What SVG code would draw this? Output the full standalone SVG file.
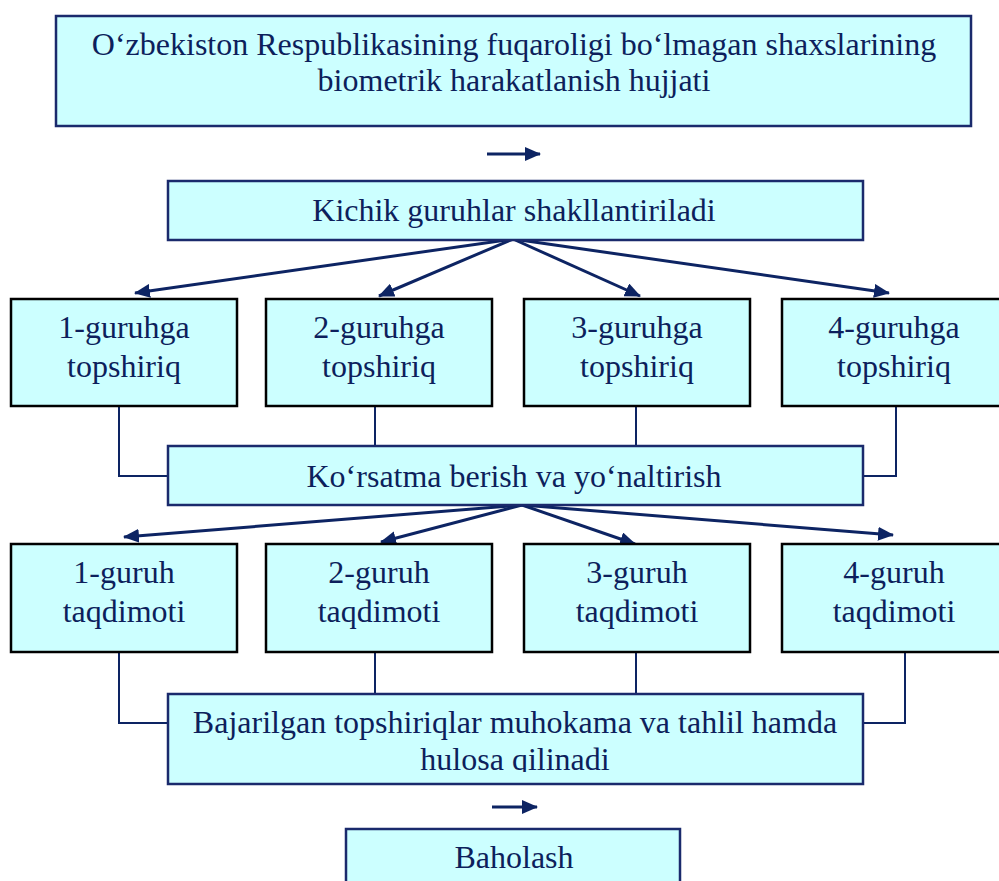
<svg xmlns="http://www.w3.org/2000/svg" width="999" height="881" viewBox="0 0 999 881">
<style>
  .bx{fill:#ccffff;stroke:#1a2a6c;stroke-width:2.5}
  .gb{fill:#ccffff;stroke:#000;stroke-width:2.5}
  .t{font-family:"Liberation Serif","Times New Roman",serif;font-size:32px;fill:#0d1f5c;text-anchor:middle}
  .ar{stroke:#0d2463;stroke-width:3;fill:none;marker-end:url(#ah)}
  .ln{stroke:#0d2463;stroke-width:2;fill:none}
</style>
<defs>
  <marker id="ah" viewBox="0 0 16 14" refX="15" refY="7" markerWidth="16" markerHeight="14" markerUnits="userSpaceOnUse" orient="auto">
    <path d="M0,0 L16,7 L0,14 z" fill="#0d2463"/>
  </marker>
  <clipPath id="cl"><rect x="167" y="694" width="697" height="78"/></clipPath>
</defs>

<g id="connectors">
  <path class="ar" d="M487,154 H540"/>
  <path class="ar" d="M513,239 L135,293"/>
  <path class="ar" d="M513,239 L379,296"/>
  <path class="ar" d="M513,239 L640,296"/>
  <path class="ar" d="M513,239 L889,293"/>
  <path class="ln" d="M119,406 V476 H168"/>
  <path class="ln" d="M375,406 V446"/>
  <path class="ln" d="M636,406 V446"/>
  <path class="ln" d="M896,406 V476 H863"/>
  <path class="ar" d="M522,505 L124,537"/>
  <path class="ar" d="M522,505 L381,542"/>
  <path class="ar" d="M522,505 L635,544"/>
  <path class="ar" d="M522,505 L893,535"/>
  <path class="ln" d="M119,652 V723 H168"/>
  <path class="ln" d="M375,652 V694"/>
  <path class="ln" d="M636,652 V694"/>
  <path class="ln" d="M905,652 V723 H863"/>
  <path class="ar" d="M492,807 H537"/>
</g>

<g id="n-top">
  <rect class="bx" x="56" y="16" width="915" height="110"/>
  <text class="t" x="514" y="55">O‘zbekiston Respublikasining fuqaroligi bo‘lmagan shaxslarining</text>
  <text class="t" x="514" y="91">biometrik harakatlanish hujjati</text>
</g>

<g id="n-kichik">
  <rect class="bx" x="168" y="181" width="695" height="59"/>
  <text class="t" x="514" y="221">Kichik guruhlar shakllantiriladi</text>
</g>

<g id="n-g1">
  <rect class="gb" x="11" y="299" width="226" height="107"/>
  <text class="t" x="124" y="338">1-guruhga</text>
  <text class="t" x="124" y="377">topshiriq</text>
</g>
<g id="n-g2">
  <rect class="gb" x="266" y="299" width="226" height="107"/>
  <text class="t" x="379" y="338">2-guruhga</text>
  <text class="t" x="379" y="377">topshiriq</text>
</g>
<g id="n-g3">
  <rect class="gb" x="524" y="299" width="226" height="107"/>
  <text class="t" x="637" y="338">3-guruhga</text>
  <text class="t" x="637" y="377">topshiriq</text>
</g>
<g id="n-g4">
  <rect class="gb" x="782" y="299" width="226" height="107"/>
  <text class="t" x="894" y="338">4-guruhga</text>
  <text class="t" x="894" y="377">topshiriq</text>
</g>

<g id="n-korsatma">
  <rect class="bx" x="168" y="446" width="695" height="59"/>
  <text class="t" x="514" y="487">Ko‘rsatma berish va yo‘naltirish</text>
</g>

<g id="n-t1">
  <rect class="gb" x="11" y="544" width="226" height="108"/>
  <text class="t" x="124" y="583">1-guruh</text>
  <text class="t" x="124" y="622">taqdimoti</text>
</g>
<g id="n-t2">
  <rect class="gb" x="266" y="544" width="226" height="108"/>
  <text class="t" x="379" y="583">2-guruh</text>
  <text class="t" x="379" y="622">taqdimoti</text>
</g>
<g id="n-t3">
  <rect class="gb" x="524" y="544" width="226" height="108"/>
  <text class="t" x="637" y="583">3-guruh</text>
  <text class="t" x="637" y="622">taqdimoti</text>
</g>
<g id="n-t4">
  <rect class="gb" x="782" y="544" width="226" height="108"/>
  <text class="t" x="894" y="583">4-guruh</text>
  <text class="t" x="894" y="622">taqdimoti</text>
</g>

<g id="n-bajarilgan">
  <rect class="bx" x="168" y="694" width="695" height="90"/>
  <g clip-path="url(#cl)">
    <text class="t" x="515" y="733">Bajarilgan topshiriqlar muhokama va tahlil hamda</text>
    <text class="t" x="515" y="770">hulosa qilinadi</text>
  </g>
</g>

<g id="n-baholash">
  <rect class="bx" x="346" y="829" width="334" height="70"/>
  <text class="t" x="514" y="868">Baholash</text>
</g>
</svg>
